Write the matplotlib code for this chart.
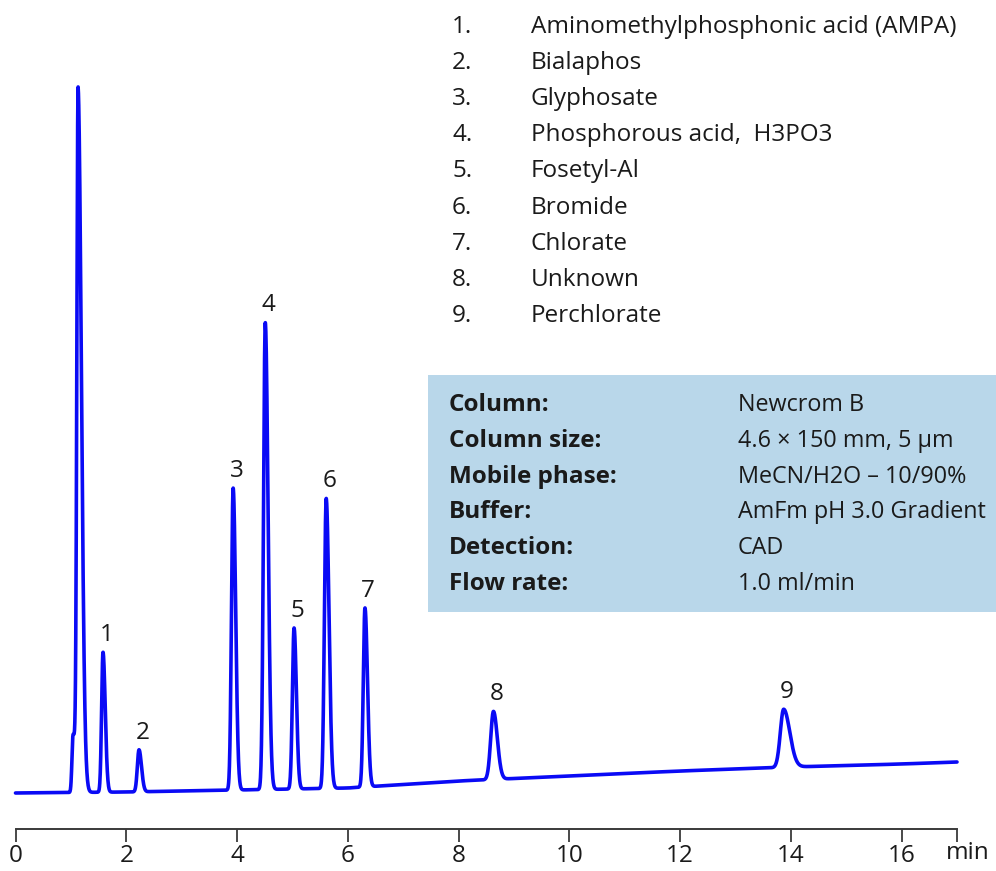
"""
Chromatogram: phosphonic acids / anions on Newcrom B, CAD detection.
Recreated as a static figure -> out.png
"""
import matplotlib
matplotlib.use("Agg")
import matplotlib.pyplot as plt
import matplotlib.patches as mpatches
import numpy as np

# ── Data ──────────────────────────────────────────────────────────────────────

# peak table (time in min, height above baseline, arb. units)
peak_labels  = ["void_shoulder", "void", "1", "2", "3", "4", "5", "6", "7", "8", "9"]
peak_times   = [1.04, 1.13, 1.58, 2.23, 3.93, 4.51, 5.03, 5.61, 6.31, 8.63, 13.87]
peak_heights = [58, 687, 140, 42, 302, 467, 161, 290, 179, 68, 58]
sigma_left   = [0.020, 0.022, 0.025, 0.030, 0.030, 0.032, 0.030, 0.032, 0.030, 0.050, 0.060]
sigma_right  = [0.060, 0.060, 0.040, 0.045, 0.045, 0.050, 0.042, 0.050, 0.045, 0.070, 0.110]

# baseline drift read at a few times
base_times  = [0, 2, 4, 6, 8, 10, 12, 14, 16, 17]
base_values = [0, 1, 3, 5, 12, 17, 22, 26, 29, 31]

compounds = [
    "Aminomethylphosphonic acid (AMPA)",
    "Bialaphos",
    "Glyphosate",
    "Phosphorous acid,  H3PO3",
    "Fosetyl-Al",
    "Bromide",
    "Chlorate",
    "Unknown",
    "Perchlorate",
]

conditions = [
    ("Column:",         "Newcrom B"),
    ("Column size:",    "4.6 \u00d7 150 mm, 5 \u00b5m"),
    ("Mobile phase:",   "MeCN/H2O \u2013 10/90%"),
    ("Buffer:",         "AmFm pH 3.0 Gradient"),
    ("Detection:",      "CAD"),
    ("Flow rate:",      "1.0 ml/min"),
]

x_ticks = [0, 2, 4, 6, 8, 10, 12, 14, 16]

# ── Style ─────────────────────────────────────────────────────────────────────

_TRACE   = "#0A0AF5"
_AXIS    = "#3A3A3A"
_BOX_BG  = "#B9D7EA"
_TEXT    = "#1A1A1A"
FONT     = ["Open Sans", "DejaVu Sans"]
FS       = 17.5
FS_VAL   = 16.8   # box values, a touch smaller so "Gradient" stays inside

W, H = 996, 871


def fx(px):
    return px / W


def fy(py):
    return 1 - py / H


def trace(t):
    y = np.interp(t, base_times, base_values)
    for t0, h, sl, sr in zip(peak_times, peak_heights, sigma_left, sigma_right):
        s = np.where(t < t0, sl, sr)
        y = y + h * np.exp(-0.5 * ((t - t0) / s) ** 2)
    return y


def main() -> None:
    fig = plt.figure(figsize=(W / 100, H / 100), dpi=100)
    fig.patch.set_facecolor("white")

    ax = fig.add_axes([fx(15.5), fy(829), fx(957) - fx(15.5), 829 / H])
    ax.set_xlim(0, 17)
    ax.set_ylim(-36, 793)
    ax.patch.set_alpha(0)

    t = np.linspace(0, 17, 6000)
    ax.plot(t, trace(t), color=_TRACE, linewidth=2.6, solid_capstyle="round", clip_on=False)

    # peak numbers
    for lab, t0, h in zip(peak_labels, peak_times, peak_heights):
        if not lab.isdigit():
            continue
        top = np.interp(t0, base_times, base_values) + h
        ax.text(t0 + 0.06, top + 5, lab, ha="center", va="bottom",
                fontsize=FS, family=FONT, color=_TEXT)

    # x axis only
    for side in ("left", "right", "top"):
        ax.spines[side].set_visible(False)
    ax.spines["bottom"].set_color(_AXIS)
    ax.spines["bottom"].set_linewidth(1.4)
    ax.set_yticks([])
    ax.set_xticks(x_ticks + [17])
    ax.set_xticklabels([str(v) for v in x_ticks] + [""])
    ax.tick_params(axis="x", direction="out", length=9, width=1.3, color=_AXIS,
                   labelsize=FS, pad=2, labelcolor=_TEXT)
    for lbl in ax.get_xticklabels():
        lbl.set_family(FONT)
    fig.text(fx(968), fy(853), "min", ha="center", va="center",
             fontsize=FS, family=FONT, color=_TEXT)

    # compound list
    for i, name in enumerate(compounds):
        y = 27 + i * 36.1
        fig.text(fx(452), fy(y), f"{i + 1}.", ha="left", va="center",
                 fontsize=FS, family=FONT, color=_TEXT)
        fig.text(fx(531), fy(y), name, ha="left", va="center",
                 fontsize=FS, family=FONT, color=_TEXT)

    # conditions box
    box = mpatches.Rectangle((fx(428), fy(612)), fx(996) - fx(428) + 0.02, (612 - 375) / H,
                             transform=fig.transFigure, facecolor=_BOX_BG,
                             edgecolor="none", zorder=0)
    fig.patches.append(box)
    for i, (k, v) in enumerate(conditions):
        y = 405 + i * 35.8
        fig.text(fx(449), fy(y), k, ha="left", va="center", fontsize=FS,
                 fontweight="bold", family=FONT, color=_TEXT)
        fig.text(fx(738), fy(y), v, ha="left", va="center", fontsize=FS_VAL,
                 family=FONT, color=_TEXT)

    fig.savefig("out.png", dpi=100, facecolor="white")
    plt.close(fig)


if __name__ == "__main__":
    main()
